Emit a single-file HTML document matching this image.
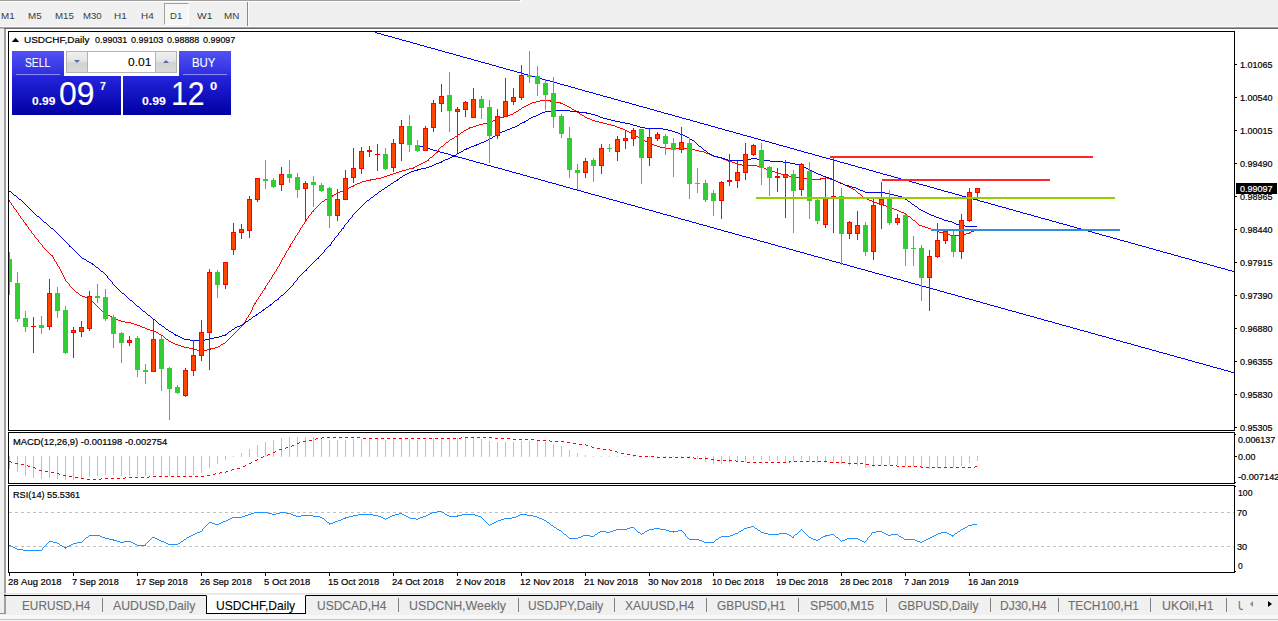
<!DOCTYPE html>
<html><head><meta charset="utf-8"><title>USDCHF,Daily</title>
<style>
html,body{margin:0;padding:0;}
body{width:1278px;height:621px;position:relative;overflow:hidden;background:#f0f0f0;font-family:"Liberation Sans",sans-serif;}
.abs{position:absolute;}
.t{position:absolute;white-space:nowrap;transform-origin:0 0;}
.frame{position:absolute;border:1px solid #000;box-sizing:border-box;}
.tick{position:absolute;left:1235px;width:2px;height:1px;background:#000;}
.dt{position:absolute;top:572px;width:1px;height:4px;background:#000;}
.sep{position:absolute;top:598px;width:1px;height:14px;background:#808080;}
</style></head><body>
<!-- toolbar -->
<div class="abs" style="left:0;top:0;width:521px;height:2px;background:#fff"></div><div class="abs" style="left:0;top:0;width:520px;height:1px;background:#a0a0a0"></div>
<div class="abs" style="left:164px;top:3px;width:25px;height:22px;border:1px solid #fff;border-left-color:#a0a0a0;border-top-color:#a0a0a0;background:#f6f6f6;box-sizing:border-box"></div>
<div class="abs" style="left:247px;top:2px;width:1px;height:25px;background:#8c8c8c"></div><div class="abs" style="left:248px;top:2px;width:1px;height:25px;background:#fbfbfb"></div>
<div class="t" style="left:0.70px;top:11px;font-size:9.8px;line-height:9.8px;color:#3c3c3c;transform-origin:0 8px;transform:scale(0.9989,1);-webkit-text-stroke:0.2px #3c3c3c;-webkit-text-stroke:0;">M1</div>
<div class="t" style="left:28.40px;top:11px;font-size:9.8px;line-height:9.8px;color:#3c3c3c;transform-origin:0 8px;transform:scale(0.9989,1);-webkit-text-stroke:0.2px #3c3c3c;-webkit-text-stroke:0;">M5</div>
<div class="t" style="left:54.50px;top:11px;font-size:9.8px;line-height:9.8px;color:#3c3c3c;transform-origin:0 8px;transform:scale(0.9914,1);-webkit-text-stroke:0.2px #3c3c3c;-webkit-text-stroke:0;">M15</div>
<div class="t" style="left:82.60px;top:11px;font-size:9.8px;line-height:9.8px;color:#3c3c3c;transform-origin:0 8px;transform:scale(0.9809,1);-webkit-text-stroke:0.2px #3c3c3c;-webkit-text-stroke:0;">M30</div>
<div class="t" style="left:113.50px;top:11px;font-size:9.8px;line-height:9.8px;color:#3c3c3c;transform-origin:0 8px;transform:scale(1.0137,1);-webkit-text-stroke:0.2px #3c3c3c;-webkit-text-stroke:0;">H1</div>
<div class="t" style="left:140.90px;top:11px;font-size:9.8px;line-height:9.8px;color:#3c3c3c;transform-origin:0 8px;transform:scale(1.0137,1);-webkit-text-stroke:0.2px #3c3c3c;-webkit-text-stroke:0;">H4</div>
<div class="t" style="left:169.70px;top:11px;font-size:9.8px;line-height:9.8px;color:#3c3c3c;transform-origin:0 8px;transform:scale(0.9738,1);-webkit-text-stroke:0.2px #3c3c3c;-webkit-text-stroke:0;">D1</div>
<div class="t" style="left:196.70px;top:11px;font-size:9.8px;line-height:9.8px;color:#3c3c3c;transform-origin:0 8px;transform:scale(1.0544,1);-webkit-text-stroke:0.2px #3c3c3c;-webkit-text-stroke:0;">W1</div>
<div class="t" style="left:223.70px;top:11px;font-size:9.8px;line-height:9.8px;color:#3c3c3c;transform-origin:0 8px;transform:scale(1.0039,1);-webkit-text-stroke:0.2px #3c3c3c;-webkit-text-stroke:0;">MN</div>

<div class="abs" style="left:0;top:26px;width:1278px;height:1px;background:#f8f8f8"></div><div class="abs" style="left:0;top:27px;width:1278px;height:1px;background:#a0a0a0"></div><div class="abs" style="left:4px;top:28px;width:1274px;height:1px;background:#696969"></div><div class="abs" style="left:0;top:28px;width:4px;height:1px;background:#b8b8b8"></div>
<div class="abs" style="left:4px;top:29px;width:2px;height:585px;background:#a0a0a0"></div><div class="abs" style="left:0;top:613px;width:6px;height:1px;background:#909090"></div>
<div class="abs" style="left:6px;top:29px;width:1272px;height:566px;background:#fff"></div>
<svg class="abs" style="left:0;top:0" width="1278" height="621" viewBox="0 0 1278 621">
<path d="M540 100.5h11M536 101.5h4M550 101.5h3M532 102.5h4M553 102.5h8M530 103.5h2M560 103.5h3M528 104.5h2M563 104.5h2M526 105.5h2M565 105.5h2M524 106.5h2M567 106.5h2M522 107.5h2M569 107.5h2M521 108.5h1M571 108.5h1M519 109.5h2M572 109.5h2M518 110.5h1M574 110.5h2M516 111.5h2M576 111.5h1M514 112.5h2M577 112.5h2M513 113.5h1M579 113.5h1M510 114.5h3M580 114.5h2M507 115.5h3M582 115.5h2M504 116.5h3M584 116.5h1M500 117.5h4M585 117.5h2M497 118.5h3M587 118.5h3M495 119.5h2M590 119.5h2M493 120.5h2M592 120.5h3M490 121.5h3M595 121.5h4M488 122.5h2M599 122.5h4M483 123.5h5M603 123.5h4M479 124.5h4M607 124.5h4M476 125.5h3M611 125.5h4M473 126.5h3M615 126.5h2M469 127.5h4M617 127.5h3M468 128.5h2M620 128.5h3M466 129.5h2M623 129.5h2M464 130.5h2M625 130.5h2M463 131.5h1M627 131.5h2M461 132.5h2M629 132.5h2M460 133.5h1M631 133.5h2M458 134.5h2M633 134.5h1M457 135.5h1M634 135.5h2M455 136.5h2M636 136.5h2M454 137.5h1M638 137.5h1M452 138.5h2M639 138.5h2M450 139.5h2M641 139.5h2M449 140.5h1M643 140.5h2M448 141.5h1M645 141.5h2M446 142.5h2M647 142.5h2M445 143.5h1M649 143.5h2M444 144.5h1M651 144.5h3M443 145.5h1M654 145.5h3M441 146.5h2M657 146.5h3M440 147.5h1M660 147.5h6M439 148.5h1M666 148.5h22M438 149.5h1M688 149.5h7M438 150.5h1M695 150.5h4M437 151.5h1M699 151.5h5M436 152.5h2M704 152.5h2M435 153.5h1M706 153.5h3M434 154.5h1M709 154.5h2M433 155.5h1M711 155.5h2M432 156.5h1M713 156.5h4M430 157.5h2M717 157.5h4M429 158.5h1M721 158.5h2M428 159.5h1M723 159.5h3M427 160.5h2M726 160.5h3M425 161.5h2M728 161.5h4M423 162.5h2M732 162.5h3M421 163.5h2M735 163.5h3M419 164.5h2M738 164.5h4M417 165.5h2M742 165.5h15M415 166.5h2M757 166.5h3M413 167.5h2M760 167.5h4M409 168.5h5M764 168.5h2M406 169.5h3M766 169.5h3M402 170.5h4M769 170.5h2M399 171.5h3M771 171.5h4M396 172.5h3M775 172.5h3M393 173.5h3M778 173.5h3M390 174.5h3M781 174.5h4M387 175.5h3M785 175.5h4M384 176.5h3M789 176.5h4M381 177.5h3M793 177.5h7M825 177.5h2M376 178.5h5M800 178.5h9M820 178.5h5M827 178.5h3M370 179.5h6M809 179.5h12M830 179.5h3M366 180.5h5M833 180.5h3M362 181.5h4M836 181.5h2M360 182.5h2M838 182.5h3M357 183.5h3M841 183.5h2M355 184.5h2M843 184.5h2M353 185.5h2M845 185.5h2M351 186.5h3M847 186.5h2M349 187.5h2M849 187.5h2M347 188.5h2M851 188.5h2M345 189.5h2M853 189.5h2M343 190.5h2M855 190.5h1M340 191.5h3M856 191.5h1M338 192.5h2M857 192.5h1M336 193.5h2M858 193.5h2M334 194.5h2M860 194.5h1M332 195.5h2M861 195.5h1M330 196.5h3M862 196.5h1M329 197.5h1M863 197.5h2M327 198.5h2M865 198.5h2M325 199.5h2M867 199.5h2M9 200.5h1M324 200.5h1M869 200.5h3M9 201.5h1M322 201.5h2M872 201.5h2M10 202.5h1M321 202.5h1M874 202.5h3M11 203.5h1M320 203.5h1M877 203.5h3M11 204.5h1M319 204.5h1M880 204.5h3M12 205.5h1M318 205.5h1M883 205.5h3M13 206.5h1M317 206.5h1M886 206.5h2M13 207.5h1M316 207.5h1M888 207.5h3M14 208.5h1M315 208.5h1M891 208.5h3M15 209.5h1M314 209.5h1M894 209.5h3M16 210.5h1M313 210.5h1M897 210.5h2M16 211.5h1M312 211.5h2M899 211.5h2M17 212.5h1M311 212.5h1M901 212.5h3M18 213.5h1M311 213.5h1M904 213.5h2M18 214.5h1M310 214.5h1M906 214.5h1M19 215.5h1M309 215.5h1M907 215.5h1M20 216.5h1M308 216.5h1M908 216.5h2M20 217.5h1M308 217.5h1M910 217.5h1M21 218.5h1M307 218.5h1M911 218.5h1M22 219.5h1M306 219.5h1M912 219.5h1M23 220.5h1M306 220.5h1M913 220.5h2M23 221.5h1M305 221.5h1M915 221.5h1M24 222.5h1M304 222.5h1M916 222.5h1M25 223.5h1M304 223.5h1M917 223.5h1M25 224.5h2M303 224.5h1M918 224.5h1M26 225.5h1M302 225.5h1M919 225.5h3M27 226.5h1M302 226.5h1M922 226.5h3M28 227.5h1M301 227.5h1M925 227.5h3M28 228.5h1M300 228.5h1M928 228.5h3M29 229.5h1M300 229.5h1M931 229.5h3M976 229.5h2M30 230.5h1M299 230.5h1M934 230.5h3M974 230.5h2M31 231.5h1M299 231.5h1M937 231.5h2M971 231.5h3M31 232.5h1M298 232.5h1M939 232.5h4M969 232.5h2M32 233.5h1M297 233.5h1M943 233.5h3M966 233.5h4M33 234.5h1M297 234.5h1M946 234.5h4M962 234.5h4M34 235.5h1M296 235.5h1M950 235.5h12M34 236.5h1M295 236.5h1M35 237.5h1M295 237.5h1M36 238.5h1M294 238.5h1M37 239.5h1M294 239.5h1M38 240.5h1M293 240.5h1M38 241.5h1M292 241.5h1M39 242.5h1M292 242.5h1M40 243.5h1M291 243.5h1M41 244.5h1M290 244.5h1M42 245.5h1M290 245.5h1M42 246.5h1M289 246.5h2M43 247.5h1M289 247.5h1M44 248.5h1M288 248.5h1M45 249.5h1M288 249.5h1M46 250.5h1M287 250.5h1M47 251.5h1M286 251.5h1M48 252.5h1M286 252.5h1M49 253.5h1M285 253.5h1M50 254.5h1M285 254.5h1M51 255.5h2M284 255.5h1M52 256.5h1M284 256.5h1M53 257.5h1M283 257.5h1M53 258.5h1M282 258.5h1M54 259.5h1M282 259.5h1M54 260.5h1M281 260.5h1M55 261.5h1M281 261.5h1M56 262.5h1M280 262.5h1M56 263.5h1M280 263.5h1M57 264.5h1M279 264.5h1M57 265.5h1M279 265.5h1M58 266.5h1M278 266.5h1M59 267.5h1M277 267.5h1M59 268.5h1M277 268.5h1M60 269.5h1M276 269.5h1M60 270.5h1M276 270.5h1M61 271.5h1M275 271.5h1M61 272.5h1M274 272.5h1M62 273.5h1M274 273.5h1M62 274.5h1M273 274.5h1M63 275.5h1M272 275.5h1M63 276.5h1M272 276.5h1M64 277.5h1M271 277.5h1M64 278.5h1M271 278.5h1M65 279.5h1M270 279.5h1M65 280.5h1M269 280.5h1M66 281.5h1M269 281.5h1M67 282.5h1M268 282.5h1M68 283.5h1M267 283.5h1M69 284.5h1M267 284.5h1M69 285.5h1M266 285.5h1M70 286.5h1M265 286.5h1M71 287.5h1M265 287.5h1M72 288.5h1M264 288.5h2M73 289.5h1M264 289.5h1M74 290.5h1M263 290.5h1M75 291.5h1M262 291.5h1M76 292.5h2M262 292.5h1M78 293.5h1M261 293.5h1M79 294.5h1M260 294.5h1M80 295.5h2M260 295.5h1M82 296.5h3M259 296.5h1M85 297.5h4M258 297.5h1M89 298.5h2M258 298.5h1M91 299.5h1M257 299.5h1M91 300.5h1M256 300.5h1M92 301.5h1M256 301.5h1M93 302.5h1M255 302.5h1M94 303.5h1M254 303.5h2M95 304.5h1M254 304.5h1M96 305.5h1M253 305.5h1M97 306.5h1M253 306.5h1M98 307.5h1M252 307.5h1M99 308.5h1M252 308.5h1M100 309.5h1M252 309.5h1M101 310.5h1M251 310.5h1M102 311.5h1M251 311.5h1M103 312.5h2M250 312.5h1M105 313.5h1M250 313.5h1M106 314.5h2M249 314.5h1M108 315.5h2M248 315.5h1M110 316.5h2M248 316.5h1M112 317.5h2M247 317.5h1M114 318.5h2M246 318.5h1M116 319.5h2M246 319.5h1M118 320.5h3M245 320.5h1M121 321.5h4M245 321.5h1M125 322.5h6M244 322.5h1M131 323.5h3M243 323.5h1M134 324.5h3M243 324.5h1M137 325.5h3M242 325.5h1M140 326.5h2M241 326.5h1M142 327.5h3M240 327.5h1M145 328.5h2M239 328.5h1M147 329.5h3M238 329.5h1M150 330.5h4M237 330.5h1M154 331.5h2M236 331.5h1M156 332.5h2M235 332.5h1M158 333.5h1M234 333.5h1M159 334.5h2M233 334.5h1M161 335.5h2M232 335.5h1M163 336.5h1M231 336.5h1M164 337.5h1M230 337.5h1M165 338.5h1M229 338.5h1M166 339.5h2M228 339.5h1M168 340.5h1M227 340.5h1M169 341.5h2M226 341.5h1M171 342.5h2M225 342.5h1M173 343.5h2M223 343.5h2M175 344.5h3M221 344.5h2M178 345.5h3M220 345.5h1M181 346.5h3M218 346.5h2M184 347.5h5M215 347.5h3M189 348.5h5M210 348.5h5M194 349.5h3M207 349.5h4M197 350.5h10" stroke="#ff0000" stroke-width="1" fill="none" shape-rendering="crispEdges"/>
<path d="M551 110.5h19M545 111.5h6M570 111.5h9M542 112.5h3M579 112.5h8M540 113.5h2M586 113.5h5M538 114.5h2M591 114.5h4M536 115.5h2M595 115.5h3M533 116.5h3M598 116.5h2M531 117.5h2M600 117.5h3M529 118.5h2M603 118.5h4M528 119.5h1M607 119.5h4M526 120.5h2M611 120.5h4M524 121.5h2M615 121.5h5M522 122.5h3M620 122.5h5M520 123.5h2M625 123.5h5M519 124.5h1M630 124.5h3M517 125.5h2M633 125.5h4M515 126.5h2M637 126.5h3M512 127.5h3M640 127.5h5M510 128.5h2M645 128.5h18M507 129.5h3M663 129.5h5M505 130.5h2M668 130.5h4M502 131.5h3M672 131.5h3M500 132.5h2M675 132.5h3M498 133.5h2M678 133.5h2M497 134.5h1M680 134.5h3M495 135.5h2M683 135.5h2M493 136.5h2M685 136.5h2M492 137.5h1M687 137.5h2M490 138.5h2M689 138.5h1M488 139.5h2M690 139.5h2M486 140.5h2M692 140.5h2M484 141.5h2M694 141.5h1M481 142.5h3M695 142.5h1M479 143.5h2M696 143.5h1M476 144.5h3M697 144.5h1M474 145.5h3M698 145.5h1M471 146.5h3M699 146.5h2M469 147.5h2M701 147.5h1M466 148.5h3M702 148.5h1M464 149.5h3M703 149.5h1M463 150.5h1M704 150.5h2M461 151.5h2M706 151.5h1M459 152.5h2M707 152.5h1M457 153.5h2M708 153.5h2M456 154.5h1M710 154.5h2M454 155.5h2M712 155.5h2M452 156.5h3M714 156.5h4M450 157.5h2M718 157.5h4M448 158.5h2M722 158.5h3M751 158.5h6M445 159.5h3M725 159.5h3M744 159.5h7M757 159.5h7M443 160.5h2M728 160.5h16M764 160.5h6M441 161.5h2M770 161.5h13M439 162.5h3M783 162.5h7M436 163.5h3M790 163.5h5M434 164.5h2M795 164.5h5M432 165.5h2M800 165.5h2M429 166.5h3M802 166.5h2M426 167.5h3M804 167.5h2M421 168.5h5M806 168.5h2M417 169.5h4M808 169.5h2M414 170.5h4M810 170.5h2M411 171.5h3M812 171.5h2M409 172.5h2M814 172.5h2M407 173.5h2M816 173.5h2M405 174.5h2M818 174.5h3M403 175.5h2M821 175.5h2M402 176.5h1M823 176.5h3M400 177.5h2M826 177.5h3M399 178.5h1M829 178.5h3M397 179.5h2M832 179.5h2M396 180.5h2M834 180.5h2M394 181.5h2M836 181.5h2M393 182.5h1M838 182.5h2M391 183.5h2M840 183.5h3M390 184.5h1M843 184.5h2M388 185.5h2M845 185.5h4M387 186.5h1M849 186.5h3M385 187.5h2M852 187.5h4M384 188.5h1M856 188.5h2M382 189.5h2M858 189.5h2M381 190.5h1M860 190.5h3M9 191.5h2M379 191.5h2M863 191.5h2M11 192.5h1M378 192.5h1M865 192.5h20M12 193.5h1M377 193.5h1M885 193.5h5M13 194.5h1M375 194.5h2M890 194.5h4M14 195.5h2M374 195.5h1M894 195.5h4M16 196.5h1M373 196.5h1M898 196.5h4M17 197.5h1M371 197.5h2M902 197.5h1M18 198.5h1M370 198.5h1M903 198.5h2M19 199.5h2M369 199.5h1M905 199.5h2M21 200.5h1M367 200.5h2M907 200.5h1M22 201.5h1M366 201.5h1M908 201.5h2M23 202.5h1M365 202.5h1M910 202.5h1M24 203.5h1M364 203.5h1M911 203.5h1M25 204.5h1M363 204.5h1M912 204.5h2M26 205.5h1M362 205.5h1M914 205.5h1M27 206.5h1M361 206.5h1M915 206.5h2M28 207.5h1M360 207.5h1M917 207.5h1M29 208.5h1M359 208.5h1M918 208.5h1M30 209.5h1M358 209.5h1M919 209.5h2M31 210.5h1M357 210.5h1M921 210.5h2M32 211.5h1M356 211.5h1M923 211.5h2M33 212.5h1M355 212.5h1M925 212.5h2M34 213.5h1M354 213.5h1M927 213.5h2M35 214.5h1M353 214.5h1M929 214.5h2M36 215.5h1M352 215.5h1M931 215.5h3M37 216.5h2M352 216.5h1M934 216.5h2M39 217.5h1M351 217.5h1M936 217.5h3M40 218.5h1M350 218.5h1M939 218.5h3M41 219.5h1M349 219.5h1M942 219.5h2M42 220.5h1M348 220.5h1M944 220.5h4M43 221.5h1M348 221.5h1M948 221.5h4M44 222.5h2M347 222.5h1M952 222.5h2M46 223.5h1M346 223.5h1M954 223.5h2M47 224.5h1M345 224.5h1M956 224.5h4M48 225.5h1M344 225.5h1M960 225.5h5M49 226.5h1M344 226.5h1M965 226.5h12M50 227.5h1M343 227.5h1M51 228.5h2M342 228.5h2M53 229.5h1M341 229.5h1M54 230.5h1M341 230.5h1M55 231.5h1M340 231.5h1M56 232.5h1M339 232.5h1M57 233.5h1M338 233.5h1M58 234.5h1M338 234.5h1M59 235.5h1M337 235.5h1M60 236.5h1M336 236.5h1M61 237.5h1M335 237.5h1M62 238.5h1M334 238.5h1M63 239.5h1M334 239.5h1M64 240.5h1M333 240.5h1M65 241.5h1M332 241.5h1M66 242.5h1M331 242.5h1M67 243.5h1M331 243.5h1M68 244.5h1M330 244.5h1M69 245.5h1M329 245.5h2M69 246.5h2M328 246.5h1M71 247.5h1M327 247.5h1M72 248.5h1M326 248.5h1M73 249.5h1M325 249.5h1M74 250.5h1M324 250.5h1M75 251.5h1M324 251.5h1M76 252.5h1M323 252.5h1M77 253.5h1M322 253.5h1M78 254.5h1M321 254.5h1M79 255.5h1M320 255.5h1M80 256.5h1M319 256.5h1M81 257.5h1M318 257.5h1M82 258.5h2M317 258.5h2M84 259.5h2M316 259.5h1M86 260.5h1M315 260.5h1M87 261.5h2M314 261.5h1M89 262.5h2M313 262.5h1M91 263.5h2M312 263.5h1M92 264.5h2M311 264.5h1M94 265.5h1M310 265.5h1M95 266.5h1M309 266.5h1M96 267.5h2M308 267.5h1M98 268.5h1M307 268.5h1M99 269.5h1M306 269.5h1M100 270.5h1M305 270.5h2M101 271.5h2M304 271.5h1M103 272.5h1M303 272.5h1M104 273.5h1M302 273.5h1M105 274.5h1M301 274.5h1M106 275.5h1M300 275.5h1M107 276.5h1M299 276.5h1M107 277.5h1M298 277.5h1M108 278.5h1M297 278.5h1M109 279.5h1M297 279.5h1M110 280.5h1M296 280.5h1M111 281.5h1M295 281.5h1M112 282.5h1M294 282.5h1M112 283.5h1M293 283.5h1M113 284.5h1M293 284.5h1M114 285.5h1M292 285.5h1M115 286.5h1M291 286.5h1M116 287.5h1M290 287.5h1M117 288.5h1M289 288.5h1M118 289.5h1M288 289.5h1M119 290.5h1M287 290.5h1M120 291.5h1M286 291.5h1M121 292.5h1M285 292.5h1M122 293.5h2M284 293.5h1M124 294.5h1M283 294.5h1M125 295.5h1M281 295.5h2M126 296.5h1M280 296.5h1M127 297.5h1M279 297.5h1M128 298.5h1M278 298.5h1M129 299.5h1M277 299.5h2M130 300.5h2M275 300.5h2M132 301.5h1M274 301.5h1M133 302.5h1M273 302.5h1M134 303.5h1M272 303.5h1M135 304.5h1M270 304.5h2M136 305.5h1M269 305.5h2M137 306.5h2M268 306.5h1M139 307.5h1M266 307.5h2M140 308.5h1M265 308.5h1M141 309.5h1M263 309.5h2M142 310.5h1M262 310.5h2M143 311.5h2M261 311.5h1M145 312.5h1M259 312.5h2M146 313.5h1M258 313.5h1M147 314.5h1M256 314.5h2M148 315.5h2M255 315.5h2M150 316.5h1M253 316.5h2M151 317.5h1M252 317.5h1M152 318.5h1M251 318.5h1M153 319.5h2M249 319.5h2M155 320.5h1M248 320.5h1M156 321.5h1M246 321.5h2M157 322.5h1M245 322.5h1M158 323.5h1M244 323.5h1M159 324.5h2M242 324.5h2M161 325.5h1M240 325.5h2M162 326.5h2M237 326.5h3M164 327.5h1M235 327.5h2M165 328.5h1M234 328.5h1M166 329.5h2M232 329.5h2M168 330.5h1M231 330.5h1M169 331.5h2M229 331.5h2M171 332.5h2M228 332.5h1M173 333.5h1M227 333.5h1M174 334.5h2M225 334.5h2M175 335.5h3M222 335.5h4M178 336.5h2M219 336.5h3M180 337.5h2M214 337.5h5M182 338.5h2M209 338.5h5M184 339.5h6M205 339.5h4M190 340.5h15" stroke="#0000e0" stroke-width="1" fill="none" shape-rendering="crispEdges"/>
<path d="M375 32.5h2M377 33.5h4M381 34.5h3M384 35.5h4M388 36.5h4M392 37.5h3M395 38.5h4M399 39.5h3M402 40.5h4M406 41.5h4M410 42.5h3M413 43.5h4M417 44.5h3M420 45.5h4M424 46.5h3M427 47.5h4M431 48.5h4M435 49.5h3M438 50.5h4M442 51.5h3M445 52.5h4M449 53.5h4M453 54.5h3M456 55.5h4M460 56.5h3M463 57.5h4M467 58.5h4M471 59.5h3M474 60.5h4M478 61.5h3M481 62.5h4M485 63.5h4M489 64.5h3M492 65.5h4M496 66.5h3M499 67.5h4M503 68.5h3M506 69.5h4M510 70.5h4M514 71.5h3M517 72.5h4M521 73.5h3M524 74.5h4M528 75.5h4M532 76.5h3M535 77.5h4M539 78.5h3M542 79.5h4M546 80.5h4M550 81.5h3M553 82.5h4M557 83.5h3M560 84.5h4M564 85.5h4M568 86.5h3M571 87.5h4M575 88.5h3M578 89.5h4M582 90.5h3M585 91.5h4M589 92.5h4M593 93.5h3M596 94.5h4M600 95.5h3M603 96.5h4M607 97.5h4M611 98.5h3M614 99.5h4M618 100.5h3M621 101.5h4M625 102.5h4M629 103.5h3M632 104.5h4M636 105.5h3M639 106.5h4M643 107.5h4M647 108.5h3M650 109.5h4M654 110.5h3M657 111.5h4M661 112.5h3M664 113.5h4M668 114.5h4M672 115.5h3M675 116.5h4M679 117.5h3M682 118.5h4M686 119.5h4M690 120.5h3M693 121.5h4M697 122.5h3M700 123.5h4M704 124.5h4M708 125.5h3M711 126.5h4M715 127.5h3M718 128.5h4M722 129.5h3M725 130.5h4M729 131.5h4M733 132.5h3M736 133.5h4M740 134.5h3M743 135.5h4M747 136.5h4M751 137.5h3M754 138.5h4M758 139.5h3M761 140.5h4M765 141.5h4M769 142.5h3M772 143.5h4M776 144.5h3M779 145.5h4M783 146.5h4M787 147.5h3M790 148.5h4M794 149.5h3M797 150.5h4M801 151.5h3M804 152.5h4M808 153.5h4M812 154.5h3M815 155.5h4M819 156.5h3M822 157.5h4M826 158.5h4M830 159.5h3M833 160.5h4M837 161.5h3M840 162.5h4M844 163.5h4M848 164.5h3M851 165.5h4M855 166.5h3M858 167.5h4M862 168.5h4M866 169.5h3M869 170.5h4M873 171.5h3M876 172.5h4M880 173.5h3M883 174.5h4M887 175.5h4M891 176.5h3M894 177.5h4M898 178.5h3M901 179.5h4M905 180.5h4M909 181.5h3M912 182.5h4M916 183.5h3M919 184.5h4M923 185.5h4M927 186.5h3M930 187.5h4M934 188.5h3M937 189.5h4M941 190.5h3M944 191.5h4M948 192.5h4M952 193.5h3M955 194.5h4M959 195.5h3M962 196.5h4M966 197.5h4M970 198.5h3M973 199.5h4M977 200.5h3M980 201.5h4M984 202.5h4M988 203.5h3M991 204.5h4M995 205.5h3M998 206.5h4M1002 207.5h4M1006 208.5h3M1009 209.5h4M1013 210.5h3M1016 211.5h4M1020 212.5h3M1023 213.5h4M1027 214.5h4M1031 215.5h3M1034 216.5h4M1038 217.5h3M1041 218.5h4M1045 219.5h4M1049 220.5h3M1052 221.5h4M1056 222.5h3M1059 223.5h4M1063 224.5h4M1067 225.5h3M1070 226.5h4M1074 227.5h3M1077 228.5h4M1081 229.5h4M1085 230.5h3M1088 231.5h4M1092 232.5h3M1095 233.5h4M1099 234.5h3M1102 235.5h4M1106 236.5h4M1110 237.5h3M1113 238.5h4M1117 239.5h3M1120 240.5h4M1124 241.5h4M1128 242.5h3M1131 243.5h4M1135 244.5h3M1138 245.5h4M1142 246.5h4M1146 247.5h3M1149 248.5h4M1153 249.5h3M1156 250.5h4M1160 251.5h3M1163 252.5h4M1167 253.5h4M1171 254.5h3M1174 255.5h4M1178 256.5h3M1181 257.5h4M1185 258.5h4M1189 259.5h3M1192 260.5h4M1196 261.5h3M1199 262.5h4M1203 263.5h4M1207 264.5h3M1210 265.5h4M1214 266.5h3M1217 267.5h4M1221 268.5h4M1225 269.5h3M1228 270.5h4M1232 271.5h2" stroke="#0000ff" stroke-width="1" fill="none" shape-rendering="crispEdges"/>
<path d="M420 146.5h3M423 147.5h3M426 148.5h4M430 149.5h3M433 150.5h4M437 151.5h3M440 152.5h4M444 153.5h4M448 154.5h3M451 155.5h4M455 156.5h3M458 157.5h4M462 158.5h4M466 159.5h3M469 160.5h4M473 161.5h3M476 162.5h4M480 163.5h4M484 164.5h3M487 165.5h4M491 166.5h3M494 167.5h4M498 168.5h4M502 169.5h3M505 170.5h4M509 171.5h3M512 172.5h4M516 173.5h4M520 174.5h3M523 175.5h4M527 176.5h3M530 177.5h4M534 178.5h4M538 179.5h3M541 180.5h4M545 181.5h3M548 182.5h4M552 183.5h4M556 184.5h3M559 185.5h4M563 186.5h3M566 187.5h4M570 188.5h3M573 189.5h4M577 190.5h4M581 191.5h3M584 192.5h4M588 193.5h3M591 194.5h4M595 195.5h4M599 196.5h3M602 197.5h4M606 198.5h3M609 199.5h4M613 200.5h4M617 201.5h3M620 202.5h4M624 203.5h3M627 204.5h4M631 205.5h4M635 206.5h3M638 207.5h4M642 208.5h3M645 209.5h4M649 210.5h4M653 211.5h3M656 212.5h4M660 213.5h3M663 214.5h4M667 215.5h4M671 216.5h3M674 217.5h4M678 218.5h3M681 219.5h4M685 220.5h4M689 221.5h3M692 222.5h4M696 223.5h3M699 224.5h4M703 225.5h4M707 226.5h3M710 227.5h4M714 228.5h3M717 229.5h4M721 230.5h3M724 231.5h4M728 232.5h4M732 233.5h3M735 234.5h4M739 235.5h3M742 236.5h4M746 237.5h4M750 238.5h3M753 239.5h4M757 240.5h3M760 241.5h4M764 242.5h4M768 243.5h3M771 244.5h4M775 245.5h3M778 246.5h4M782 247.5h4M786 248.5h3M789 249.5h4M793 250.5h3M796 251.5h4M800 252.5h4M804 253.5h3M807 254.5h4M811 255.5h3M814 256.5h4M818 257.5h4M822 258.5h3M825 259.5h4M829 260.5h3M832 261.5h4M836 262.5h4M840 263.5h3M843 264.5h4M847 265.5h3M850 266.5h4M854 267.5h3M857 268.5h4M861 269.5h4M865 270.5h3M868 271.5h4M872 272.5h3M875 273.5h4M879 274.5h4M883 275.5h3M886 276.5h4M890 277.5h3M893 278.5h4M897 279.5h4M901 280.5h3M904 281.5h4M908 282.5h3M911 283.5h4M915 284.5h4M919 285.5h3M922 286.5h4M926 287.5h3M929 288.5h4M933 289.5h4M937 290.5h3M940 291.5h4M944 292.5h3M947 293.5h4M951 294.5h4M955 295.5h3M958 296.5h4M962 297.5h3M965 298.5h4M969 299.5h4M973 300.5h3M976 301.5h4M980 302.5h3M983 303.5h4M987 304.5h3M990 305.5h4M994 306.5h4M998 307.5h3M1001 308.5h4M1005 309.5h3M1008 310.5h4M1012 311.5h4M1016 312.5h3M1019 313.5h4M1023 314.5h3M1026 315.5h4M1030 316.5h4M1034 317.5h3M1037 318.5h4M1041 319.5h3M1044 320.5h4M1048 321.5h4M1052 322.5h3M1055 323.5h4M1059 324.5h3M1062 325.5h4M1066 326.5h4M1070 327.5h3M1073 328.5h4M1077 329.5h3M1080 330.5h4M1084 331.5h4M1088 332.5h3M1091 333.5h4M1095 334.5h3M1098 335.5h4M1102 336.5h4M1106 337.5h3M1109 338.5h4M1113 339.5h3M1116 340.5h4M1120 341.5h3M1123 342.5h4M1127 343.5h4M1131 344.5h3M1134 345.5h4M1138 346.5h3M1141 347.5h4M1145 348.5h4M1149 349.5h3M1152 350.5h4M1156 351.5h3M1159 352.5h4M1163 353.5h4M1167 354.5h3M1170 355.5h4M1174 356.5h3M1177 357.5h4M1181 358.5h4M1185 359.5h3M1188 360.5h4M1192 361.5h3M1195 362.5h4M1199 363.5h4M1203 364.5h3M1206 365.5h4M1210 366.5h3M1213 367.5h4M1217 368.5h4M1221 369.5h3M1224 370.5h4M1228 371.5h3M1231 372.5h3" stroke="#0000ff" stroke-width="1" fill="none" shape-rendering="crispEdges"/>
<g shape-rendering="crispEdges">
<rect x="9" y="252" width="1" height="43" fill="#32cd32"/>
<rect x="9" y="259" width="3" height="23" fill="#32cd32"/>
<rect x="17" y="272" width="1" height="50" fill="#32cd32"/>
<rect x="15" y="283" width="5" height="36" fill="#32cd32"/>
<rect x="25" y="311" width="1" height="21" fill="#32cd32"/>
<rect x="23" y="318" width="5" height="9" fill="#32cd32"/>
<rect x="33" y="317" width="1" height="36" fill="#ff0000"/>
<rect x="31" y="326" width="5" height="1" fill="#ff0000"/>
<rect x="41" y="316" width="1" height="18" fill="#32cd32"/>
<rect x="39" y="325" width="5" height="3" fill="#32cd32"/>
<rect x="49" y="279" width="1" height="51" fill="#ff0000"/>
<rect x="47" y="293" width="5" height="34" fill="#ff0000"/>
<rect x="48" y="294" width="3" height="32" fill="#ff4500"/>
<rect x="57" y="287" width="1" height="31" fill="#32cd32"/>
<rect x="55" y="293" width="5" height="18" fill="#32cd32"/>
<rect x="65" y="306" width="1" height="48" fill="#32cd32"/>
<rect x="63" y="310" width="5" height="43" fill="#32cd32"/>
<rect x="73" y="327" width="1" height="31" fill="#ff0000"/>
<rect x="71" y="330" width="5" height="3" fill="#ff0000"/>
<rect x="72" y="331" width="3" height="1" fill="#ff4500"/>
<rect x="81" y="321" width="1" height="16" fill="#ff0000"/>
<rect x="79" y="327" width="5" height="5" fill="#ff0000"/>
<rect x="80" y="328" width="3" height="3" fill="#ff4500"/>
<rect x="89" y="291" width="1" height="40" fill="#ff0000"/>
<rect x="87" y="296" width="5" height="33" fill="#ff0000"/>
<rect x="88" y="297" width="3" height="31" fill="#ff4500"/>
<rect x="97" y="284" width="1" height="19" fill="#32cd32"/>
<rect x="95" y="296" width="5" height="2" fill="#32cd32"/>
<rect x="105" y="289" width="1" height="32" fill="#32cd32"/>
<rect x="103" y="297" width="5" height="22" fill="#32cd32"/>
<rect x="113" y="315" width="1" height="33" fill="#32cd32"/>
<rect x="111" y="317" width="5" height="17" fill="#32cd32"/>
<rect x="121" y="332" width="1" height="31" fill="#32cd32"/>
<rect x="119" y="333" width="5" height="10" fill="#32cd32"/>
<rect x="129" y="336" width="1" height="10" fill="#ff0000"/>
<rect x="127" y="340" width="5" height="3" fill="#ff0000"/>
<rect x="128" y="341" width="3" height="1" fill="#ff4500"/>
<rect x="137" y="336" width="1" height="41" fill="#32cd32"/>
<rect x="135" y="338" width="5" height="32" fill="#32cd32"/>
<rect x="145" y="364" width="1" height="20" fill="#32cd32"/>
<rect x="143" y="370" width="5" height="2" fill="#32cd32"/>
<rect x="153" y="320" width="1" height="52" fill="#ff0000"/>
<rect x="151" y="339" width="5" height="33" fill="#ff0000"/>
<rect x="152" y="340" width="3" height="31" fill="#ff4500"/>
<rect x="161" y="336" width="1" height="55" fill="#32cd32"/>
<rect x="159" y="339" width="5" height="30" fill="#32cd32"/>
<rect x="169" y="367" width="1" height="53" fill="#32cd32"/>
<rect x="167" y="368" width="5" height="21" fill="#32cd32"/>
<rect x="177" y="385" width="1" height="9" fill="#32cd32"/>
<rect x="175" y="387" width="5" height="6" fill="#32cd32"/>
<rect x="185" y="368" width="1" height="29" fill="#ff0000"/>
<rect x="183" y="370" width="5" height="26" fill="#ff0000"/>
<rect x="184" y="371" width="3" height="24" fill="#ff4500"/>
<rect x="193" y="340" width="1" height="36" fill="#ff0000"/>
<rect x="191" y="355" width="5" height="16" fill="#ff0000"/>
<rect x="192" y="356" width="3" height="14" fill="#ff4500"/>
<rect x="201" y="320" width="1" height="41" fill="#ff0000"/>
<rect x="199" y="332" width="5" height="24" fill="#ff0000"/>
<rect x="200" y="333" width="3" height="22" fill="#ff4500"/>
<rect x="209" y="269" width="1" height="101" fill="#ff0000"/>
<rect x="207" y="272" width="5" height="61" fill="#ff0000"/>
<rect x="208" y="273" width="3" height="59" fill="#ff4500"/>
<rect x="217" y="270" width="1" height="28" fill="#32cd32"/>
<rect x="215" y="272" width="5" height="13" fill="#32cd32"/>
<rect x="225" y="262" width="1" height="27" fill="#ff0000"/>
<rect x="223" y="262" width="5" height="23" fill="#ff0000"/>
<rect x="224" y="263" width="3" height="21" fill="#ff4500"/>
<rect x="233" y="223" width="1" height="32" fill="#ff0000"/>
<rect x="231" y="232" width="5" height="18" fill="#ff0000"/>
<rect x="232" y="233" width="3" height="16" fill="#ff4500"/>
<rect x="241" y="224" width="1" height="15" fill="#ff0000"/>
<rect x="239" y="229" width="5" height="4" fill="#ff0000"/>
<rect x="240" y="230" width="3" height="2" fill="#ff4500"/>
<rect x="249" y="196" width="1" height="42" fill="#ff0000"/>
<rect x="247" y="199" width="5" height="32" fill="#ff0000"/>
<rect x="248" y="200" width="3" height="30" fill="#ff4500"/>
<rect x="257" y="178" width="1" height="24" fill="#ff0000"/>
<rect x="255" y="178" width="5" height="22" fill="#ff0000"/>
<rect x="256" y="179" width="3" height="20" fill="#ff4500"/>
<rect x="265" y="160" width="1" height="29" fill="#32cd32"/>
<rect x="263" y="179" width="5" height="2" fill="#32cd32"/>
<rect x="273" y="178" width="1" height="10" fill="#32cd32"/>
<rect x="271" y="180" width="5" height="7" fill="#32cd32"/>
<rect x="281" y="167" width="1" height="24" fill="#ff0000"/>
<rect x="279" y="174" width="5" height="11" fill="#ff0000"/>
<rect x="280" y="175" width="3" height="9" fill="#ff4500"/>
<rect x="289" y="160" width="1" height="23" fill="#32cd32"/>
<rect x="287" y="174" width="5" height="4" fill="#32cd32"/>
<rect x="297" y="173" width="1" height="25" fill="#32cd32"/>
<rect x="295" y="177" width="5" height="13" fill="#32cd32"/>
<rect x="305" y="181" width="1" height="40" fill="#ff0000"/>
<rect x="303" y="183" width="5" height="6" fill="#ff0000"/>
<rect x="304" y="184" width="3" height="4" fill="#ff4500"/>
<rect x="313" y="176" width="1" height="31" fill="#32cd32"/>
<rect x="311" y="182" width="5" height="3" fill="#32cd32"/>
<rect x="321" y="183" width="1" height="9" fill="#32cd32"/>
<rect x="319" y="185" width="5" height="6" fill="#32cd32"/>
<rect x="329" y="187" width="1" height="41" fill="#32cd32"/>
<rect x="327" y="188" width="5" height="28" fill="#32cd32"/>
<rect x="337" y="189" width="1" height="32" fill="#ff0000"/>
<rect x="335" y="199" width="5" height="17" fill="#ff0000"/>
<rect x="336" y="200" width="3" height="15" fill="#ff4500"/>
<rect x="345" y="170" width="1" height="30" fill="#ff0000"/>
<rect x="343" y="178" width="5" height="22" fill="#ff0000"/>
<rect x="344" y="179" width="3" height="20" fill="#ff4500"/>
<rect x="353" y="148" width="1" height="35" fill="#ff0000"/>
<rect x="351" y="168" width="5" height="10" fill="#ff0000"/>
<rect x="352" y="169" width="3" height="8" fill="#ff4500"/>
<rect x="361" y="147" width="1" height="27" fill="#ff0000"/>
<rect x="359" y="151" width="5" height="18" fill="#ff0000"/>
<rect x="360" y="152" width="3" height="16" fill="#ff4500"/>
<rect x="369" y="146" width="1" height="11" fill="#ff0000"/>
<rect x="367" y="150" width="5" height="2" fill="#ff0000"/>
<rect x="377" y="144" width="1" height="27" fill="#ff0000"/>
<rect x="375" y="154" width="5" height="1" fill="#ff0000"/>
<rect x="385" y="148" width="1" height="22" fill="#32cd32"/>
<rect x="383" y="154" width="5" height="15" fill="#32cd32"/>
<rect x="393" y="139" width="1" height="33" fill="#ff0000"/>
<rect x="391" y="143" width="5" height="25" fill="#ff0000"/>
<rect x="392" y="144" width="3" height="23" fill="#ff4500"/>
<rect x="401" y="120" width="1" height="41" fill="#ff0000"/>
<rect x="399" y="126" width="5" height="18" fill="#ff0000"/>
<rect x="400" y="127" width="3" height="16" fill="#ff4500"/>
<rect x="409" y="115" width="1" height="37" fill="#32cd32"/>
<rect x="407" y="126" width="5" height="19" fill="#32cd32"/>
<rect x="417" y="140" width="1" height="12" fill="#32cd32"/>
<rect x="415" y="145" width="5" height="6" fill="#32cd32"/>
<rect x="425" y="126" width="1" height="25" fill="#ff0000"/>
<rect x="423" y="128" width="5" height="23" fill="#ff0000"/>
<rect x="424" y="129" width="3" height="21" fill="#ff4500"/>
<rect x="433" y="100" width="1" height="32" fill="#ff0000"/>
<rect x="431" y="103" width="5" height="25" fill="#ff0000"/>
<rect x="432" y="104" width="3" height="23" fill="#ff4500"/>
<rect x="441" y="84" width="1" height="28" fill="#ff0000"/>
<rect x="439" y="96" width="5" height="8" fill="#ff0000"/>
<rect x="440" y="97" width="3" height="6" fill="#ff4500"/>
<rect x="449" y="72" width="1" height="60" fill="#32cd32"/>
<rect x="447" y="95" width="5" height="16" fill="#32cd32"/>
<rect x="457" y="107" width="1" height="46" fill="#ff0000"/>
<rect x="455" y="109" width="5" height="3" fill="#ff0000"/>
<rect x="456" y="110" width="3" height="1" fill="#ff4500"/>
<rect x="465" y="101" width="1" height="16" fill="#ff0000"/>
<rect x="463" y="102" width="5" height="8" fill="#ff0000"/>
<rect x="464" y="103" width="3" height="6" fill="#ff4500"/>
<rect x="473" y="88" width="1" height="30" fill="#ff0000"/>
<rect x="471" y="99" width="5" height="19" fill="#ff0000"/>
<rect x="472" y="100" width="3" height="17" fill="#ff4500"/>
<rect x="481" y="96" width="1" height="23" fill="#32cd32"/>
<rect x="479" y="99" width="5" height="9" fill="#32cd32"/>
<rect x="489" y="100" width="1" height="63" fill="#32cd32"/>
<rect x="487" y="107" width="5" height="29" fill="#32cd32"/>
<rect x="497" y="109" width="1" height="30" fill="#ff0000"/>
<rect x="495" y="116" width="5" height="20" fill="#ff0000"/>
<rect x="496" y="117" width="3" height="18" fill="#ff4500"/>
<rect x="505" y="78" width="1" height="39" fill="#ff0000"/>
<rect x="503" y="101" width="5" height="16" fill="#ff0000"/>
<rect x="504" y="102" width="3" height="14" fill="#ff4500"/>
<rect x="513" y="88" width="1" height="17" fill="#ff0000"/>
<rect x="511" y="97" width="5" height="5" fill="#ff0000"/>
<rect x="512" y="98" width="3" height="3" fill="#ff4500"/>
<rect x="521" y="65" width="1" height="35" fill="#ff0000"/>
<rect x="519" y="75" width="5" height="23" fill="#ff0000"/>
<rect x="520" y="76" width="3" height="21" fill="#ff4500"/>
<rect x="529" y="51" width="1" height="32" fill="#32cd32"/>
<rect x="527" y="75" width="5" height="2" fill="#32cd32"/>
<rect x="537" y="66" width="1" height="30" fill="#32cd32"/>
<rect x="535" y="76" width="5" height="8" fill="#32cd32"/>
<rect x="545" y="79" width="1" height="31" fill="#32cd32"/>
<rect x="543" y="83" width="5" height="12" fill="#32cd32"/>
<rect x="553" y="77" width="1" height="51" fill="#32cd32"/>
<rect x="551" y="93" width="5" height="24" fill="#32cd32"/>
<rect x="561" y="114" width="1" height="24" fill="#32cd32"/>
<rect x="559" y="116" width="5" height="18" fill="#32cd32"/>
<rect x="569" y="127" width="1" height="51" fill="#32cd32"/>
<rect x="567" y="138" width="5" height="32" fill="#32cd32"/>
<rect x="577" y="164" width="1" height="26" fill="#32cd32"/>
<rect x="575" y="170" width="5" height="3" fill="#32cd32"/>
<rect x="585" y="158" width="1" height="20" fill="#ff0000"/>
<rect x="583" y="161" width="5" height="12" fill="#ff0000"/>
<rect x="584" y="162" width="3" height="10" fill="#ff4500"/>
<rect x="593" y="158" width="1" height="24" fill="#32cd32"/>
<rect x="591" y="160" width="5" height="6" fill="#32cd32"/>
<rect x="601" y="144" width="1" height="30" fill="#ff0000"/>
<rect x="599" y="148" width="5" height="18" fill="#ff0000"/>
<rect x="600" y="149" width="3" height="16" fill="#ff4500"/>
<rect x="609" y="144" width="1" height="8" fill="#32cd32"/>
<rect x="607" y="148" width="5" height="1" fill="#32cd32"/>
<rect x="617" y="136" width="1" height="25" fill="#ff0000"/>
<rect x="615" y="139" width="5" height="13" fill="#ff0000"/>
<rect x="616" y="140" width="3" height="11" fill="#ff4500"/>
<rect x="625" y="130" width="1" height="19" fill="#ff0000"/>
<rect x="623" y="138" width="5" height="3" fill="#ff0000"/>
<rect x="624" y="139" width="3" height="1" fill="#ff4500"/>
<rect x="633" y="128" width="1" height="18" fill="#ff0000"/>
<rect x="631" y="130" width="5" height="9" fill="#ff0000"/>
<rect x="632" y="131" width="3" height="7" fill="#ff4500"/>
<rect x="641" y="129" width="1" height="55" fill="#32cd32"/>
<rect x="639" y="129" width="5" height="29" fill="#32cd32"/>
<rect x="649" y="129" width="1" height="37" fill="#ff0000"/>
<rect x="647" y="137" width="5" height="21" fill="#ff0000"/>
<rect x="648" y="138" width="3" height="19" fill="#ff4500"/>
<rect x="657" y="132" width="1" height="9" fill="#ff0000"/>
<rect x="655" y="134" width="5" height="5" fill="#ff0000"/>
<rect x="656" y="135" width="3" height="3" fill="#ff4500"/>
<rect x="665" y="134" width="1" height="21" fill="#32cd32"/>
<rect x="663" y="136" width="5" height="8" fill="#32cd32"/>
<rect x="673" y="138" width="1" height="39" fill="#32cd32"/>
<rect x="671" y="143" width="5" height="7" fill="#32cd32"/>
<rect x="681" y="127" width="1" height="26" fill="#ff0000"/>
<rect x="679" y="142" width="5" height="8" fill="#ff0000"/>
<rect x="680" y="143" width="3" height="6" fill="#ff4500"/>
<rect x="689" y="138" width="1" height="61" fill="#32cd32"/>
<rect x="687" y="143" width="5" height="41" fill="#32cd32"/>
<rect x="697" y="168" width="1" height="25" fill="#32cd32"/>
<rect x="695" y="183" width="5" height="1" fill="#32cd32"/>
<rect x="705" y="180" width="1" height="22" fill="#32cd32"/>
<rect x="703" y="183" width="5" height="17" fill="#32cd32"/>
<rect x="713" y="190" width="1" height="26" fill="#32cd32"/>
<rect x="711" y="193" width="5" height="8" fill="#32cd32"/>
<rect x="721" y="181" width="1" height="38" fill="#ff0000"/>
<rect x="719" y="182" width="5" height="19" fill="#ff0000"/>
<rect x="720" y="183" width="3" height="17" fill="#ff4500"/>
<rect x="729" y="154" width="1" height="32" fill="#ff0000"/>
<rect x="727" y="180" width="5" height="2" fill="#ff0000"/>
<rect x="737" y="161" width="1" height="27" fill="#ff0000"/>
<rect x="735" y="172" width="5" height="9" fill="#ff0000"/>
<rect x="736" y="173" width="3" height="7" fill="#ff4500"/>
<rect x="745" y="143" width="1" height="37" fill="#ff0000"/>
<rect x="743" y="154" width="5" height="19" fill="#ff0000"/>
<rect x="744" y="155" width="3" height="17" fill="#ff4500"/>
<rect x="753" y="144" width="1" height="12" fill="#ff0000"/>
<rect x="751" y="145" width="5" height="10" fill="#ff0000"/>
<rect x="752" y="146" width="3" height="8" fill="#ff4500"/>
<rect x="761" y="143" width="1" height="42" fill="#32cd32"/>
<rect x="759" y="150" width="5" height="18" fill="#32cd32"/>
<rect x="769" y="166" width="1" height="30" fill="#32cd32"/>
<rect x="767" y="167" width="5" height="11" fill="#32cd32"/>
<rect x="777" y="168" width="1" height="24" fill="#ff0000"/>
<rect x="775" y="176" width="5" height="2" fill="#ff0000"/>
<rect x="785" y="160" width="1" height="58" fill="#ff0000"/>
<rect x="783" y="174" width="5" height="4" fill="#ff0000"/>
<rect x="784" y="175" width="3" height="2" fill="#ff4500"/>
<rect x="793" y="170" width="1" height="63" fill="#32cd32"/>
<rect x="791" y="174" width="5" height="17" fill="#32cd32"/>
<rect x="801" y="163" width="1" height="33" fill="#ff0000"/>
<rect x="799" y="164" width="5" height="26" fill="#ff0000"/>
<rect x="800" y="165" width="3" height="24" fill="#ff4500"/>
<rect x="809" y="162" width="1" height="57" fill="#32cd32"/>
<rect x="807" y="171" width="5" height="30" fill="#32cd32"/>
<rect x="817" y="199" width="1" height="25" fill="#32cd32"/>
<rect x="815" y="200" width="5" height="21" fill="#32cd32"/>
<rect x="825" y="177" width="1" height="51" fill="#ff0000"/>
<rect x="823" y="198" width="5" height="27" fill="#ff0000"/>
<rect x="824" y="199" width="3" height="25" fill="#ff4500"/>
<rect x="833" y="156" width="1" height="77" fill="#ff0000"/>
<rect x="831" y="196" width="5" height="1" fill="#ff0000"/>
<rect x="841" y="188" width="1" height="77" fill="#32cd32"/>
<rect x="839" y="196" width="5" height="38" fill="#32cd32"/>
<rect x="849" y="221" width="1" height="18" fill="#ff0000"/>
<rect x="847" y="222" width="5" height="12" fill="#ff0000"/>
<rect x="848" y="223" width="3" height="10" fill="#ff4500"/>
<rect x="857" y="211" width="1" height="29" fill="#ff0000"/>
<rect x="855" y="225" width="5" height="9" fill="#ff0000"/>
<rect x="856" y="226" width="3" height="7" fill="#ff4500"/>
<rect x="865" y="222" width="1" height="34" fill="#32cd32"/>
<rect x="863" y="225" width="5" height="27" fill="#32cd32"/>
<rect x="873" y="199" width="1" height="61" fill="#ff0000"/>
<rect x="871" y="205" width="5" height="47" fill="#ff0000"/>
<rect x="872" y="206" width="3" height="45" fill="#ff4500"/>
<rect x="881" y="182" width="1" height="47" fill="#ff0000"/>
<rect x="879" y="199" width="5" height="6" fill="#ff0000"/>
<rect x="880" y="200" width="3" height="4" fill="#ff4500"/>
<rect x="889" y="190" width="1" height="35" fill="#32cd32"/>
<rect x="887" y="198" width="5" height="25" fill="#32cd32"/>
<rect x="897" y="214" width="1" height="11" fill="#ff0000"/>
<rect x="895" y="218" width="5" height="5" fill="#ff0000"/>
<rect x="896" y="219" width="3" height="3" fill="#ff4500"/>
<rect x="905" y="214" width="1" height="52" fill="#32cd32"/>
<rect x="903" y="215" width="5" height="34" fill="#32cd32"/>
<rect x="913" y="236" width="1" height="30" fill="#32cd32"/>
<rect x="911" y="248" width="5" height="1" fill="#32cd32"/>
<rect x="921" y="245" width="1" height="56" fill="#32cd32"/>
<rect x="919" y="248" width="5" height="30" fill="#32cd32"/>
<rect x="929" y="250" width="1" height="61" fill="#ff0000"/>
<rect x="927" y="256" width="5" height="22" fill="#ff0000"/>
<rect x="928" y="257" width="3" height="20" fill="#ff4500"/>
<rect x="937" y="223" width="1" height="35" fill="#ff0000"/>
<rect x="935" y="240" width="5" height="17" fill="#ff0000"/>
<rect x="936" y="241" width="3" height="15" fill="#ff4500"/>
<rect x="945" y="230" width="1" height="14" fill="#ff0000"/>
<rect x="943" y="231" width="5" height="10" fill="#ff0000"/>
<rect x="944" y="232" width="3" height="8" fill="#ff4500"/>
<rect x="953" y="230" width="1" height="27" fill="#32cd32"/>
<rect x="951" y="236" width="5" height="16" fill="#32cd32"/>
<rect x="961" y="214" width="1" height="45" fill="#ff0000"/>
<rect x="959" y="220" width="5" height="32" fill="#ff0000"/>
<rect x="960" y="221" width="3" height="30" fill="#ff4500"/>
<rect x="969" y="188" width="1" height="34" fill="#ff0000"/>
<rect x="967" y="192" width="5" height="29" fill="#ff0000"/>
<rect x="968" y="193" width="3" height="27" fill="#ff4500"/>
<rect x="977" y="188" width="1" height="13" fill="#ff0000"/>
<rect x="975" y="188" width="5" height="5" fill="#ff0000"/>
<rect x="976" y="189" width="3" height="3" fill="#ff4500"/>
</g>
<g shape-rendering="crispEdges">
<rect x="830" y="156" width="263" height="2" fill="#ff2828"/>
<rect x="882" y="179" width="168" height="2" fill="#ff2828"/>
<rect x="756" y="197" width="359" height="2" fill="#99cc00"/>
<rect x="931" y="229" width="189" height="2" fill="#2e8ee6"/>
</g>
<g shape-rendering="crispEdges" fill="#c0c0c0">
<rect x="9" y="456" width="1" height="13"/>
<rect x="17" y="456" width="1" height="16"/>
<rect x="25" y="456" width="1" height="20"/>
<rect x="33" y="456" width="1" height="22"/>
<rect x="41" y="456" width="1" height="23"/>
<rect x="49" y="456" width="1" height="22"/>
<rect x="57" y="456" width="1" height="23"/>
<rect x="65" y="456" width="1" height="24"/>
<rect x="73" y="456" width="1" height="24"/>
<rect x="81" y="456" width="1" height="23"/>
<rect x="89" y="456" width="1" height="21"/>
<rect x="97" y="456" width="1" height="20"/>
<rect x="105" y="456" width="1" height="19"/>
<rect x="113" y="456" width="1" height="19"/>
<rect x="121" y="456" width="1" height="20"/>
<rect x="129" y="456" width="1" height="20"/>
<rect x="137" y="456" width="1" height="20"/>
<rect x="145" y="456" width="1" height="20"/>
<rect x="153" y="456" width="1" height="19"/>
<rect x="161" y="456" width="1" height="20"/>
<rect x="169" y="456" width="1" height="20"/>
<rect x="177" y="456" width="1" height="20"/>
<rect x="185" y="456" width="1" height="20"/>
<rect x="193" y="456" width="1" height="19"/>
<rect x="201" y="456" width="1" height="17"/>
<rect x="209" y="456" width="1" height="12"/>
<rect x="217" y="456" width="1" height="8"/>
<rect x="225" y="456" width="1" height="4"/>
<rect x="233" y="456" width="1" height="1"/>
<rect x="241" y="453" width="1" height="4"/>
<rect x="249" y="449" width="1" height="8"/>
<rect x="257" y="445" width="1" height="12"/>
<rect x="265" y="442" width="1" height="15"/>
<rect x="273" y="440" width="1" height="17"/>
<rect x="281" y="438" width="1" height="19"/>
<rect x="289" y="437" width="1" height="20"/>
<rect x="297" y="437" width="1" height="20"/>
<rect x="305" y="437" width="1" height="20"/>
<rect x="313" y="437" width="1" height="20"/>
<rect x="321" y="438" width="1" height="19"/>
<rect x="329" y="440" width="1" height="17"/>
<rect x="337" y="440" width="1" height="17"/>
<rect x="345" y="440" width="1" height="17"/>
<rect x="353" y="439" width="1" height="18"/>
<rect x="361" y="439" width="1" height="18"/>
<rect x="369" y="439" width="1" height="18"/>
<rect x="377" y="439" width="1" height="18"/>
<rect x="385" y="440" width="1" height="17"/>
<rect x="393" y="439" width="1" height="18"/>
<rect x="401" y="439" width="1" height="18"/>
<rect x="409" y="439" width="1" height="18"/>
<rect x="417" y="440" width="1" height="17"/>
<rect x="425" y="440" width="1" height="17"/>
<rect x="433" y="438" width="1" height="19"/>
<rect x="441" y="438" width="1" height="19"/>
<rect x="449" y="438" width="1" height="19"/>
<rect x="457" y="438" width="1" height="19"/>
<rect x="465" y="438" width="1" height="19"/>
<rect x="473" y="438" width="1" height="19"/>
<rect x="481" y="439" width="1" height="18"/>
<rect x="489" y="441" width="1" height="16"/>
<rect x="497" y="442" width="1" height="15"/>
<rect x="505" y="442" width="1" height="15"/>
<rect x="513" y="442" width="1" height="15"/>
<rect x="521" y="441" width="1" height="16"/>
<rect x="529" y="441" width="1" height="16"/>
<rect x="537" y="440" width="1" height="17"/>
<rect x="545" y="442" width="1" height="15"/>
<rect x="553" y="444" width="1" height="13"/>
<rect x="561" y="446" width="1" height="11"/>
<rect x="569" y="450" width="1" height="7"/>
<rect x="577" y="453" width="1" height="4"/>
<rect x="585" y="455" width="1" height="2"/>
<rect x="593" y="456" width="1" height="1"/>
<rect x="601" y="456" width="1" height="1"/>
<rect x="609" y="456" width="1" height="1"/>
<rect x="617" y="456" width="1" height="1"/>
<rect x="625" y="456" width="1" height="1"/>
<rect x="633" y="456" width="1" height="1"/>
<rect x="641" y="456" width="1" height="1"/>
<rect x="649" y="456" width="1" height="1"/>
<rect x="657" y="456" width="1" height="1"/>
<rect x="665" y="456" width="1" height="1"/>
<rect x="673" y="456" width="1" height="1"/>
<rect x="681" y="456" width="1" height="1"/>
<rect x="689" y="456" width="1" height="1"/>
<rect x="697" y="456" width="1" height="3"/>
<rect x="705" y="456" width="1" height="6"/>
<rect x="713" y="456" width="1" height="8"/>
<rect x="721" y="456" width="1" height="8"/>
<rect x="729" y="456" width="1" height="7"/>
<rect x="737" y="456" width="1" height="6"/>
<rect x="745" y="456" width="1" height="6"/>
<rect x="753" y="456" width="1" height="4"/>
<rect x="761" y="456" width="1" height="4"/>
<rect x="769" y="456" width="1" height="5"/>
<rect x="777" y="456" width="1" height="5"/>
<rect x="785" y="456" width="1" height="6"/>
<rect x="793" y="456" width="1" height="5"/>
<rect x="801" y="456" width="1" height="4"/>
<rect x="809" y="456" width="1" height="6"/>
<rect x="817" y="456" width="1" height="7"/>
<rect x="825" y="456" width="1" height="7"/>
<rect x="833" y="456" width="1" height="7"/>
<rect x="841" y="456" width="1" height="8"/>
<rect x="849" y="456" width="1" height="10"/>
<rect x="857" y="456" width="1" height="10"/>
<rect x="865" y="456" width="1" height="12"/>
<rect x="873" y="456" width="1" height="11"/>
<rect x="881" y="456" width="1" height="9"/>
<rect x="889" y="456" width="1" height="9"/>
<rect x="897" y="456" width="1" height="9"/>
<rect x="905" y="456" width="1" height="10"/>
<rect x="913" y="456" width="1" height="10"/>
<rect x="921" y="456" width="1" height="12"/>
<rect x="929" y="456" width="1" height="13"/>
<rect x="937" y="456" width="1" height="12"/>
<rect x="945" y="456" width="1" height="11"/>
<rect x="953" y="456" width="1" height="11"/>
<rect x="961" y="456" width="1" height="10"/>
<rect x="969" y="456" width="1" height="7"/>
<rect x="977" y="456" width="1" height="5"/>
</g>
<path d="M322 437.5h2M327 437.5h3M333 437.5h3M339 437.5h3M345 437.5h3M351 437.5h3M357 437.5h3M461 437.5h1M465 437.5h3M471 437.5h3M477 437.5h3M483 437.5h3M489 437.5h3M316 438.5h2M321 438.5h1M363 438.5h3M369 438.5h3M375 438.5h3M381 438.5h3M387 438.5h3M393 438.5h3M399 438.5h3M405 438.5h3M411 438.5h3M417 438.5h3M423 438.5h3M429 438.5h3M435 438.5h3M441 438.5h3M447 438.5h3M453 438.5h3M459 438.5h2M495 438.5h3M501 438.5h3M507 438.5h3M315 439.5h1M513 439.5h3M519 439.5h3M525 439.5h3M531 439.5h3M309 440.5h3M537 440.5h3M543 440.5h3M549 440.5h1M303 441.5h3M550 441.5h2M555 441.5h3M561 441.5h3M299 442.5h1M567 442.5h3M297 443.5h2M573 443.5h3M579 444.5h3M585 444.5h1M292 445.5h2M586 445.5h2M291 446.5h1M591 446.5h1M286 447.5h2M592 447.5h2M285 448.5h1M597 448.5h3M279 449.5h3M603 449.5h3M609 449.5h1M610 450.5h2M275 451.5h1M615 451.5h2M273 452.5h2M617 452.5h1M621 453.5h3M268 454.5h2M627 454.5h3M267 455.5h1M633 455.5h3M263 456.5h1M639 456.5h3M645 456.5h3M651 456.5h3M261 457.5h2M657 457.5h3M663 457.5h3M669 457.5h3M675 457.5h3M681 457.5h3M687 457.5h3M693 457.5h1M694 458.5h2M699 458.5h3M705 458.5h3M257 459.5h1M711 459.5h3M255 460.5h2M717 460.5h3M723 460.5h3M729 460.5h3M735 460.5h1M9 461.5h2M736 461.5h2M741 461.5h3M789 461.5h2M794 461.5h3M800 461.5h3M806 461.5h3M812 461.5h3M818 461.5h3M824 461.5h3M11 462.5h1M251 462.5h1M747 462.5h3M753 462.5h3M759 462.5h3M765 462.5h3M771 462.5h3M777 462.5h3M783 462.5h3M789 462.5h1M830 462.5h3M836 462.5h3M842 462.5h3M15 463.5h3M249 463.5h2M848 463.5h3M854 463.5h3M860 463.5h3M21 464.5h3M866 464.5h3M27 465.5h1M245 465.5h1M872 465.5h3M878 465.5h3M884 465.5h3M890 465.5h3M896 465.5h1M28 466.5h2M243 466.5h2M897 466.5h2M902 466.5h3M908 466.5h3M914 466.5h3M920 466.5h1M975 466.5h2M33 467.5h2M921 467.5h2M926 467.5h3M932 467.5h3M938 467.5h3M944 467.5h3M950 467.5h3M956 467.5h3M962 467.5h3M968 467.5h3M974 467.5h1M35 468.5h1M237 468.5h3M232 469.5h2M39 470.5h3M231 470.5h1M45 471.5h3M226 471.5h2M51 472.5h3M220 472.5h2M225 472.5h1M57 473.5h2M215 473.5h1M219 473.5h1M59 474.5h1M213 474.5h2M63 475.5h3M207 475.5h3M69 476.5h3M149 476.5h1M153 476.5h3M159 476.5h3M165 476.5h3M171 476.5h3M177 476.5h3M183 476.5h3M189 476.5h3M195 476.5h3M201 476.5h3M75 477.5h3M125 477.5h1M129 477.5h3M135 477.5h3M141 477.5h3M147 477.5h2M81 478.5h3M101 478.5h1M105 478.5h3M111 478.5h3M117 478.5h3M123 478.5h2M87 479.5h3M93 479.5h3M99 479.5h2" stroke="#ff0000" stroke-width="1" fill="none" shape-rendering="crispEdges"/>
<g stroke="#c0c0c0" stroke-width="1" stroke-dasharray="3,3" shape-rendering="crispEdges">
<line x1="9" y1="512.5" x2="1234" y2="512.5"/>
<line x1="9" y1="546.5" x2="1234" y2="546.5"/>
</g>
<path d="M437 511.5h5M254 512.5h14M280 512.5h6M432 512.5h5M442 512.5h2M251 513.5h3M268 513.5h4M276 513.5h4M286 513.5h5M399 513.5h3M430 513.5h2M444 513.5h1M248 514.5h3M272 514.5h4M291 514.5h2M358 514.5h15M395 514.5h4M402 514.5h2M428 514.5h2M445 514.5h2M462 514.5h13M520 514.5h7M245 515.5h3M293 515.5h3M301 515.5h12M353 515.5h5M373 515.5h5M392 515.5h3M404 515.5h2M426 515.5h2M447 515.5h2M457 515.5h5M475 515.5h3M518 515.5h2M527 515.5h6M242 516.5h3M296 516.5h5M313 516.5h7M349 516.5h4M378 516.5h3M390 516.5h2M406 516.5h2M423 516.5h3M449 516.5h9M478 516.5h3M516 516.5h2M533 516.5h4M232 517.5h10M320 517.5h2M345 517.5h4M381 517.5h2M388 517.5h2M408 517.5h2M420 517.5h3M481 517.5h1M512 517.5h4M537 517.5h2M230 518.5h2M322 518.5h2M343 518.5h3M383 518.5h2M386 518.5h2M410 518.5h6M418 518.5h2M482 518.5h1M504 518.5h8M539 518.5h3M228 519.5h2M324 519.5h1M341 519.5h2M385 519.5h1M416 519.5h2M483 519.5h1M501 519.5h3M542 519.5h2M226 520.5h2M325 520.5h1M338 520.5h3M484 520.5h1M498 520.5h3M544 520.5h2M223 521.5h3M326 521.5h1M335 521.5h3M485 521.5h1M496 521.5h2M546 521.5h1M209 522.5h3M221 522.5h2M327 522.5h2M333 522.5h2M486 522.5h1M494 522.5h2M547 522.5h2M208 523.5h1M212 523.5h3M219 523.5h2M329 523.5h4M487 523.5h1M492 523.5h2M549 523.5h1M207 524.5h1M215 524.5h4M329 524.5h1M488 524.5h1M490 524.5h2M550 524.5h1M972 524.5h5M206 525.5h1M489 525.5h1M551 525.5h2M968 525.5h4M205 526.5h1M553 526.5h1M751 526.5h3M967 526.5h1M204 527.5h1M554 527.5h2M630 527.5h4M747 527.5h4M754 527.5h1M965 527.5h2M203 528.5h1M556 528.5h1M627 528.5h3M634 528.5h1M654 528.5h6M744 528.5h3M755 528.5h2M963 528.5h2M202 529.5h1M557 529.5h2M616 529.5h11M635 529.5h1M649 529.5h5M660 529.5h6M743 529.5h1M757 529.5h1M801 529.5h1M961 529.5h2M202 530.5h1M559 530.5h2M613 530.5h3M636 530.5h1M647 530.5h2M666 530.5h3M678 530.5h4M741 530.5h2M758 530.5h2M800 530.5h1M802 530.5h1M960 530.5h1M200 531.5h2M561 531.5h1M600 531.5h6M610 531.5h3M637 531.5h1M645 531.5h2M669 531.5h9M682 531.5h1M739 531.5h2M760 531.5h1M799 531.5h1M803 531.5h1M876 531.5h6M958 531.5h2M197 532.5h3M562 532.5h1M598 532.5h2M606 532.5h4M638 532.5h2M644 532.5h1M673 532.5h1M683 532.5h1M738 532.5h1M761 532.5h3M798 532.5h1M804 532.5h1M872 532.5h4M882 532.5h2M941 532.5h6M957 532.5h1M195 533.5h2M563 533.5h1M597 533.5h1M640 533.5h1M642 533.5h2M684 533.5h1M735 533.5h3M764 533.5h4M779 533.5h8M797 533.5h1M805 533.5h1M871 533.5h1M884 533.5h2M938 533.5h3M947 533.5h2M955 533.5h2M193 534.5h2M564 534.5h2M595 534.5h2M641 534.5h1M685 534.5h1M733 534.5h2M768 534.5h11M787 534.5h2M795 534.5h2M806 534.5h1M830 534.5h4M871 534.5h1M886 534.5h2M891 534.5h7M936 534.5h2M949 534.5h2M954 534.5h1M89 535.5h11M191 535.5h2M566 535.5h1M583 535.5h7M594 535.5h1M685 535.5h1M730 535.5h3M789 535.5h2M794 535.5h1M807 535.5h1M825 535.5h5M834 535.5h1M870 535.5h1M888 535.5h3M898 535.5h1M934 535.5h2M951 535.5h3M88 536.5h1M100 536.5h2M189 536.5h2M567 536.5h1M581 536.5h2M590 536.5h4M686 536.5h1M721 536.5h9M791 536.5h1M793 536.5h1M808 536.5h1M823 536.5h3M835 536.5h1M869 536.5h1M899 536.5h2M932 536.5h2M952 536.5h1M86 537.5h2M102 537.5h3M152 537.5h3M187 537.5h2M568 537.5h1M578 537.5h3M687 537.5h1M719 537.5h2M792 537.5h2M809 537.5h2M821 537.5h2M836 537.5h2M868 537.5h1M901 537.5h2M930 537.5h2M85 538.5h1M105 538.5h4M151 538.5h1M155 538.5h2M186 538.5h1M569 538.5h9M688 538.5h1M718 538.5h1M811 538.5h2M820 538.5h1M838 538.5h1M847 538.5h11M867 538.5h1M903 538.5h1M928 538.5h2M84 539.5h1M109 539.5h5M150 539.5h1M157 539.5h2M184 539.5h2M689 539.5h10M716 539.5h2M813 539.5h3M818 539.5h2M839 539.5h1M845 539.5h2M858 539.5h2M867 539.5h1M904 539.5h11M926 539.5h2M83 540.5h1M113 540.5h4M149 540.5h1M159 540.5h2M183 540.5h1M699 540.5h3M715 540.5h1M816 540.5h2M840 540.5h1M842 540.5h3M860 540.5h2M866 540.5h1M915 540.5h2M924 540.5h2M49 541.5h4M82 541.5h1M117 541.5h3M124 541.5h7M148 541.5h1M161 541.5h3M181 541.5h2M702 541.5h2M714 541.5h1M841 541.5h1M862 541.5h2M865 541.5h1M917 541.5h3M922 541.5h2M48 542.5h1M53 542.5h4M77 542.5h5M120 542.5h4M131 542.5h2M147 542.5h1M164 542.5h2M180 542.5h1M704 542.5h10M864 542.5h1M920 542.5h2M47 543.5h1M57 543.5h2M73 543.5h4M133 543.5h2M146 543.5h1M166 543.5h2M178 543.5h2M46 544.5h1M59 544.5h1M71 544.5h2M135 544.5h2M145 544.5h1M168 544.5h10M9 545.5h2M45 545.5h1M60 545.5h2M69 545.5h2M137 545.5h9M11 546.5h2M44 546.5h1M62 546.5h2M67 546.5h2M13 547.5h2M43 547.5h1M64 547.5h3M15 548.5h2M42 548.5h1M65 548.5h1M17 549.5h6M42 549.5h1M23 550.5h19" stroke="#1e90ff" stroke-width="1" fill="none" shape-rendering="crispEdges"/>
<polygon points="11.8,42 19.2,42 15.5,37.8" fill="#000"/>
</svg>
<div class="frame" style="left:8px;top:31px;width:1227px;height:400px"></div>
<div class="frame" style="left:8px;top:432px;width:1227px;height:52px"></div>
<div class="frame" style="left:8px;top:485px;width:1227px;height:88px"></div>
<div class="tick" style="top:64px"></div><div class="t" style="left:1240.40px;top:60px;font-size:9.8px;line-height:9.8px;color:#000;transform-origin:0 8px;transform:scale(0.9202,1);-webkit-text-stroke:0.2px #000;">1.01065</div>
<div class="tick" style="top:97px"></div><div class="t" style="left:1240.40px;top:93px;font-size:9.8px;line-height:9.8px;color:#000;transform-origin:0 8px;transform:scale(0.9202,1);-webkit-text-stroke:0.2px #000;">1.00540</div>
<div class="tick" style="top:130px"></div><div class="t" style="left:1240.40px;top:126px;font-size:9.8px;line-height:9.8px;color:#000;transform-origin:0 8px;transform:scale(0.9202,1);-webkit-text-stroke:0.2px #000;">1.00015</div>
<div class="tick" style="top:163px"></div><div class="t" style="left:1240.40px;top:159px;font-size:9.8px;line-height:9.8px;color:#000;transform-origin:0 8px;transform:scale(0.9202,1);-webkit-text-stroke:0.2px #000;">0.99490</div>
<div class="tick" style="top:196px"></div><div class="t" style="left:1240.40px;top:192px;font-size:9.8px;line-height:9.8px;color:#000;transform-origin:0 8px;transform:scale(0.9202,1);-webkit-text-stroke:0.2px #000;">0.98965</div>
<div class="tick" style="top:229px"></div><div class="t" style="left:1240.40px;top:225px;font-size:9.8px;line-height:9.8px;color:#000;transform-origin:0 8px;transform:scale(0.9202,1);-webkit-text-stroke:0.2px #000;">0.98440</div>
<div class="tick" style="top:262px"></div><div class="t" style="left:1240.40px;top:258px;font-size:9.8px;line-height:9.8px;color:#000;transform-origin:0 8px;transform:scale(0.9202,1);-webkit-text-stroke:0.2px #000;">0.97915</div>
<div class="tick" style="top:295px"></div><div class="t" style="left:1240.40px;top:291px;font-size:9.8px;line-height:9.8px;color:#000;transform-origin:0 8px;transform:scale(0.9202,1);-webkit-text-stroke:0.2px #000;">0.97390</div>
<div class="tick" style="top:328px"></div><div class="t" style="left:1240.40px;top:324px;font-size:9.8px;line-height:9.8px;color:#000;transform-origin:0 8px;transform:scale(0.9202,1);-webkit-text-stroke:0.2px #000;">0.96880</div>
<div class="tick" style="top:361px"></div><div class="t" style="left:1240.40px;top:357px;font-size:9.8px;line-height:9.8px;color:#000;transform-origin:0 8px;transform:scale(0.9202,1);-webkit-text-stroke:0.2px #000;">0.96355</div>
<div class="tick" style="top:394px"></div><div class="t" style="left:1240.40px;top:390px;font-size:9.8px;line-height:9.8px;color:#000;transform-origin:0 8px;transform:scale(0.9202,1);-webkit-text-stroke:0.2px #000;">0.95830</div>
<div class="tick" style="top:427px"></div><div class="t" style="left:1240.40px;top:423px;font-size:9.8px;line-height:9.8px;color:#000;transform-origin:0 8px;transform:scale(0.9202,1);-webkit-text-stroke:0.2px #000;">0.95305</div>

<div class="abs" style="left:1236px;top:183px;width:41px;height:10.7px;background:#000"></div>
<div class="t" style="left:1240.40px;top:184px;font-size:9.8px;line-height:9.8px;color:#fff;transform-origin:0 8px;transform:scale(0.9202,1);-webkit-text-stroke:0.2px #fff;">0.99097</div>

<div class="tick" style="top:456px"></div><div class="tick" style="top:434px;width:1px"></div><div class="tick" style="top:482px;width:1px"></div><div class="tick" style="top:486px;width:1px"></div><div class="tick" style="top:571px;width:1px"></div>
<div class="t" style="left:1238.30px;top:435px;font-size:9.8px;line-height:9.8px;color:#000;transform-origin:0 8px;transform:scale(0.9101,1);-webkit-text-stroke:0.2px #000;">0.006137</div>
<div class="t" style="left:1238.30px;top:452px;font-size:9.8px;line-height:9.8px;color:#000;transform-origin:0 8px;transform:scale(0.9122,1);-webkit-text-stroke:0.2px #000;">0.00</div>
<div class="t" style="left:1238.30px;top:472px;font-size:9.8px;line-height:9.8px;color:#000;transform-origin:0 8px;transform:scale(0.9402,1);-webkit-text-stroke:0.2px #000;">-0.007142</div>
<div class="t" style="left:1238.30px;top:488px;font-size:9.8px;line-height:9.8px;color:#000;transform-origin:0 8px;transform:scale(0.8868,1);-webkit-text-stroke:0.2px #000;">100</div>
<div class="t" style="left:1236.70px;top:508px;font-size:9.8px;line-height:9.8px;color:#000;transform-origin:0 8px;transform:scale(0.9357,1);-webkit-text-stroke:0.2px #000;">70</div>
<div class="t" style="left:1236.70px;top:542px;font-size:9.8px;line-height:9.8px;color:#000;transform-origin:0 8px;transform:scale(0.9357,1);-webkit-text-stroke:0.2px #000;">30</div>
<div class="t" style="left:1238.30px;top:561px;font-size:9.8px;line-height:9.8px;color:#000;transform-origin:0 8px;transform:scale(0.8623,1);-webkit-text-stroke:0.2px #000;">0</div>


<div class="t" style="left:23.70px;top:35px;font-size:9.8px;line-height:9.8px;color:#000;transform-origin:0 8px;transform:scale(1.0179,1);-webkit-text-stroke:0.2px #000;">USDCHF,Daily</div>
<div class="t" style="left:95.30px;top:35px;font-size:9.8px;line-height:9.8px;color:#000;transform-origin:0 8px;transform:scale(0.9118,1);-webkit-text-stroke:0.2px #000;">0.99031</div>
<div class="t" style="left:131.30px;top:35px;font-size:9.8px;line-height:9.8px;color:#000;transform-origin:0 8px;transform:scale(0.9118,1);-webkit-text-stroke:0.2px #000;">0.99103</div>
<div class="t" style="left:167.30px;top:35px;font-size:9.8px;line-height:9.8px;color:#000;transform-origin:0 8px;transform:scale(0.9118,1);-webkit-text-stroke:0.2px #000;">0.98888</div>
<div class="t" style="left:203.30px;top:35px;font-size:9.8px;line-height:9.8px;color:#000;transform-origin:0 8px;transform:scale(0.9118,1);-webkit-text-stroke:0.2px #000;">0.99097</div>
<div class="t" style="left:13.30px;top:437px;font-size:9.8px;line-height:9.8px;color:#000;transform-origin:0 8px;transform:scale(0.9573,1);-webkit-text-stroke:0.2px #000;">MACD(12,26,9)&nbsp;-0.001198&nbsp;-0.002754</div>
<div class="t" style="left:13.30px;top:490px;font-size:9.8px;line-height:9.8px;color:#000;transform-origin:0 8px;transform:scale(0.9345,1);-webkit-text-stroke:0.2px #000;">RSI(14)&nbsp;55.5361</div>

<!-- one click trading -->
<div class="abs" style="left:12px;top:51px;width:52px;height:25px;background:linear-gradient(#5252f4,#2c2ce0)"></div>
<div class="abs" style="left:179px;top:51px;width:52px;height:25px;background:linear-gradient(#5252f4,#2c2ce0)"></div>
<div class="abs" style="left:12px;top:76px;width:109px;height:39px;background:linear-gradient(#2424dc,#0000a4)"></div>
<div class="abs" style="left:123px;top:76px;width:108px;height:39px;background:linear-gradient(#2424dc,#0000a4)"></div>
<div class="abs" style="left:16px;top:74px;width:44px;height:1px;background:#8a8af2"></div>
<div class="abs" style="left:183px;top:74px;width:44px;height:1px;background:#8a8af2"></div>
<div class="abs" style="left:64px;top:51px;width:115px;height:24px;background:#fff"></div>
<div class="abs" style="left:66px;top:51px;width:111px;height:22px;background:#fff;border:1px solid #b2b2b2;box-sizing:border-box"></div>
<div class="abs" style="left:67px;top:52px;width:20px;height:20px;background:linear-gradient(#f0f0f0,#e4e4e4 45%,#d2d2d2 55%,#dadada)"></div>
<div class="abs" style="left:87px;top:52px;width:1px;height:20px;background:#b2b2b2"></div>
<div class="abs" style="left:156px;top:52px;width:20px;height:20px;background:linear-gradient(#f0f0f0,#e4e4e4 45%,#d2d2d2 55%,#dadada)"></div>
<div class="abs" style="left:155px;top:52px;width:1px;height:20px;background:#b2b2b2"></div>
<div class="abs" style="left:73.5px;top:60px;width:0;height:0;border-left:3px solid transparent;border-right:3px solid transparent;border-top:3px solid #5868b0"></div>
<div class="abs" style="left:162.5px;top:60px;width:0;height:0;border-left:3px solid transparent;border-right:3px solid transparent;border-bottom:3px solid #5868b0"></div>
<div class="t" style="left:24.60px;top:57px;font-size:12px;line-height:12px;color:#fff;transform-origin:0 10px;transform:scale(0.8550,1);-webkit-text-stroke:0.1px #fff;">SELL</div>
<div class="t" style="left:192.40px;top:57px;font-size:12px;line-height:12px;color:#fff;transform-origin:0 10px;transform:scale(0.9483,1);-webkit-text-stroke:0.1px #fff;">BUY</div>
<div class="t" style="left:128.20px;top:57px;font-size:11.1px;line-height:11.1px;color:#000;transform-origin:0 9px;transform:scale(1.0831,1);-webkit-text-stroke:0.1px #000;">0.01</div>
<div class="t" style="left:32.30px;top:96px;font-size:10.7px;line-height:10.7px;color:#fff;font-weight:bold;transform-origin:0 9px;transform:scale(1.1236,1);-webkit-text-stroke:0.1px #fff;">0.99</div>
<div class="t" style="left:142.10px;top:96px;font-size:10.7px;line-height:10.7px;color:#fff;font-weight:bold;transform-origin:0 9px;transform:scale(1.1476,1);-webkit-text-stroke:0.1px #fff;">0.99</div>
<div class="t" style="left:59.30px;top:77px;font-size:33px;line-height:33px;color:#fff;transform-origin:0 28px;transform:scale(0.9671,1);-webkit-text-stroke:0.1px #fff;">09</div>
<div class="t" style="left:170.80px;top:77px;font-size:33px;line-height:33px;color:#fff;transform-origin:0 28px;transform:scale(0.9153,1);-webkit-text-stroke:0.1px #fff;">12</div>
<div class="t" style="left:99.80px;top:81px;font-size:10.6px;line-height:10.6px;color:#fff;font-weight:bold;transform-origin:0 9px;transform:scale(1.0008,1);-webkit-text-stroke:0.1px #fff;">7</div>
<div class="t" style="left:209.90px;top:81px;font-size:10.6px;line-height:10.6px;color:#fff;font-weight:bold;transform-origin:0 9px;transform:scale(1.2213,1);-webkit-text-stroke:0.1px #fff;">0</div>

<div class="dt" style="left:9px"></div><div class="t" style="left:7.50px;top:577px;font-size:9.8px;line-height:9.8px;color:#000;transform-origin:0 8px;transform:scale(0.9628,1);-webkit-text-stroke:0.2px #000;">28&nbsp;Aug&nbsp;2018</div>
<div class="dt" style="left:73px"></div><div class="t" style="left:71.50px;top:577px;font-size:9.8px;line-height:9.8px;color:#000;transform-origin:0 8px;transform:scale(0.9325,1);-webkit-text-stroke:0.2px #000;">7&nbsp;Sep&nbsp;2018</div>
<div class="dt" style="left:137px"></div><div class="t" style="left:135.50px;top:577px;font-size:9.8px;line-height:9.8px;color:#000;transform-origin:0 8px;transform:scale(0.9310,1);-webkit-text-stroke:0.2px #000;">17&nbsp;Sep&nbsp;2018</div>
<div class="dt" style="left:201px"></div><div class="t" style="left:199.50px;top:577px;font-size:9.8px;line-height:9.8px;color:#000;transform-origin:0 8px;transform:scale(0.9310,1);-webkit-text-stroke:0.2px #000;">26&nbsp;Sep&nbsp;2018</div>
<div class="dt" style="left:265px"></div><div class="t" style="left:263.50px;top:577px;font-size:9.8px;line-height:9.8px;color:#000;transform-origin:0 8px;transform:scale(0.9647,1);-webkit-text-stroke:0.2px #000;">5&nbsp;Oct&nbsp;2018</div>
<div class="dt" style="left:329px"></div><div class="t" style="left:327.50px;top:577px;font-size:9.8px;line-height:9.8px;color:#000;transform-origin:0 8px;transform:scale(0.9589,1);-webkit-text-stroke:0.2px #000;">15&nbsp;Oct&nbsp;2018</div>
<div class="dt" style="left:393px"></div><div class="t" style="left:391.50px;top:577px;font-size:9.8px;line-height:9.8px;color:#000;transform-origin:0 8px;transform:scale(0.9702,1);-webkit-text-stroke:0.2px #000;">24&nbsp;Oct&nbsp;2018</div>
<div class="dt" style="left:457px"></div><div class="t" style="left:455.50px;top:577px;font-size:9.8px;line-height:9.8px;color:#000;transform-origin:0 8px;transform:scale(0.9875,1);-webkit-text-stroke:0.2px #000;">2&nbsp;Nov&nbsp;2018</div>
<div class="dt" style="left:521px"></div><div class="t" style="left:519.50px;top:577px;font-size:9.8px;line-height:9.8px;color:#000;transform-origin:0 8px;transform:scale(0.9716,1);-webkit-text-stroke:0.2px #000;">12&nbsp;Nov&nbsp;2018</div>
<div class="dt" style="left:585px"></div><div class="t" style="left:583.50px;top:577px;font-size:9.8px;line-height:9.8px;color:#000;transform-origin:0 8px;transform:scale(0.9716,1);-webkit-text-stroke:0.2px #000;">21&nbsp;Nov&nbsp;2018</div>
<div class="dt" style="left:649px"></div><div class="t" style="left:647.50px;top:577px;font-size:9.8px;line-height:9.8px;color:#000;transform-origin:0 8px;transform:scale(0.9716,1);-webkit-text-stroke:0.2px #000;">30&nbsp;Nov&nbsp;2018</div>
<div class="dt" style="left:713px"></div><div class="t" style="left:711.50px;top:577px;font-size:9.8px;line-height:9.8px;color:#000;transform-origin:0 8px;transform:scale(0.9375,1);-webkit-text-stroke:0.2px #000;">10&nbsp;Dec&nbsp;2018</div>
<div class="dt" style="left:777px"></div><div class="t" style="left:775.50px;top:577px;font-size:9.8px;line-height:9.8px;color:#000;transform-origin:0 8px;transform:scale(0.9375,1);-webkit-text-stroke:0.2px #000;">19&nbsp;Dec&nbsp;2018</div>
<div class="dt" style="left:841px"></div><div class="t" style="left:839.50px;top:577px;font-size:9.8px;line-height:9.8px;color:#000;transform-origin:0 8px;transform:scale(0.9411,1);-webkit-text-stroke:0.2px #000;">28&nbsp;Dec&nbsp;2018</div>
<div class="dt" style="left:905px"></div><div class="t" style="left:903.50px;top:577px;font-size:9.8px;line-height:9.8px;color:#000;transform-origin:0 8px;transform:scale(0.9279,1);-webkit-text-stroke:0.2px #000;">7&nbsp;Jan&nbsp;2019</div>
<div class="dt" style="left:969px"></div><div class="t" style="left:967.50px;top:577px;font-size:9.8px;line-height:9.8px;color:#000;transform-origin:0 8px;transform:scale(0.9379,1);-webkit-text-stroke:0.2px #000;">16&nbsp;Jan&nbsp;2019</div>

<!-- tab bar -->
<div class="abs" style="left:6px;top:594px;width:1272px;height:27px;background:#f0f0f0"></div>
<div class="abs" style="left:0;top:593px;width:1278px;height:1px;background:#e4e4e4"></div>
<div class="abs" style="left:4px;top:595px;width:1274px;height:1px;background:#000"></div>
<div class="abs" style="left:206px;top:595px;width:100px;height:19px;background:#fff;border:1px solid #000;border-top:1px solid #fff;box-sizing:border-box"></div>
<div class="t" style="left:21.90px;top:600px;font-size:12.2px;line-height:12.2px;color:#6e6e6e;transform-origin:0 10px;transform:scale(0.9687,1);-webkit-text-stroke:0.1px #6e6e6e;">EURUSD,H4</div>
<div class="t" style="left:112.90px;top:600px;font-size:12.2px;line-height:12.2px;color:#6e6e6e;transform-origin:0 10px;transform:scale(1.0058,1);-webkit-text-stroke:0.1px #6e6e6e;">AUDUSD,Daily</div>
<div class="t" style="left:215.50px;top:600px;font-size:12.2px;line-height:12.2px;color:#000;transform-origin:0 10px;transform:scale(0.9902,1);-webkit-text-stroke:0.1px #000;">USDCHF,Daily</div>
<div class="t" style="left:316.70px;top:600px;font-size:12.2px;line-height:12.2px;color:#6e6e6e;transform-origin:0 10px;transform:scale(0.9843,1);-webkit-text-stroke:0.1px #6e6e6e;">USDCAD,H4</div>
<div class="t" style="left:408.90px;top:600px;font-size:12.2px;line-height:12.2px;color:#6e6e6e;transform-origin:0 10px;transform:scale(1.0183,1);-webkit-text-stroke:0.1px #6e6e6e;">USDCNH,Weekly</div>
<div class="t" style="left:527.80px;top:600px;font-size:12.2px;line-height:12.2px;color:#6e6e6e;transform-origin:0 10px;transform:scale(0.9783,1);-webkit-text-stroke:0.1px #6e6e6e;">USDJPY,Daily</div>
<div class="t" style="left:624.90px;top:600px;font-size:12.2px;line-height:12.2px;color:#6e6e6e;transform-origin:0 10px;transform:scale(0.9910,1);-webkit-text-stroke:0.1px #6e6e6e;">XAUUSD,H4</div>
<div class="t" style="left:717.40px;top:600px;font-size:12.2px;line-height:12.2px;color:#6e6e6e;transform-origin:0 10px;transform:scale(0.9729,1);-webkit-text-stroke:0.1px #6e6e6e;">GBPUSD,H1</div>
<div class="t" style="left:809.50px;top:600px;font-size:12.2px;line-height:12.2px;color:#6e6e6e;transform-origin:0 10px;transform:scale(1.0054,1);-webkit-text-stroke:0.1px #6e6e6e;">SP500,M15</div>
<div class="t" style="left:897.70px;top:600px;font-size:12.2px;line-height:12.2px;color:#6e6e6e;transform-origin:0 10px;transform:scale(0.9813,1);-webkit-text-stroke:0.1px #6e6e6e;">GBPUSD,Daily</div>
<div class="t" style="left:999.90px;top:600px;font-size:12.2px;line-height:12.2px;color:#6e6e6e;transform-origin:0 10px;transform:scale(0.9860,1);-webkit-text-stroke:0.1px #6e6e6e;">DJ30,H4</div>
<div class="t" style="left:1067.90px;top:600px;font-size:12.2px;line-height:12.2px;color:#6e6e6e;transform-origin:0 10px;transform:scale(0.9786,1);-webkit-text-stroke:0.1px #6e6e6e;">TECH100,H1</div>
<div class="t" style="left:1161.80px;top:600px;font-size:12.2px;line-height:12.2px;color:#6e6e6e;transform-origin:0 10px;transform:scale(1.0168,1);-webkit-text-stroke:0.1px #6e6e6e;">UKOil,H1</div>
<div class="sep" style="left:102px"></div><div class="sep" style="left:398px"></div><div class="sep" style="left:518px"></div><div class="sep" style="left:614px"></div><div class="sep" style="left:706px"></div><div class="sep" style="left:798px"></div><div class="sep" style="left:886px"></div><div class="sep" style="left:990px"></div><div class="sep" style="left:1058px"></div><div class="sep" style="left:1150px"></div><div class="sep" style="left:1226px"></div>
<div class="abs" style="left:0;top:615px;width:1278px;height:6px;background:#f8f8f8"></div>
<div class="abs" style="left:0;top:619px;width:1278px;height:1px;background:#c4c4c4"></div>
<div class="abs" style="left:1237.8px;top:597px;width:5.4px;height:16px;overflow:hidden"><div class="t" style="left:0.00px;top:3px;font-size:12.2px;line-height:12.2px;color:#6e6e6e;transform-origin:0 10px;transform:scale(0.8849,1);-webkit-text-stroke:0.1px #6e6e6e;">USDJPY,H4</div>
</div>
<div class="abs" style="left:1249.5px;top:601.3px;width:0;height:0;border-top:3px solid transparent;border-bottom:3px solid transparent;border-right:3.6px solid #8c8c8c"></div>
<div class="abs" style="left:1268.3px;top:600.8px;width:0;height:0;border-top:3.5px solid transparent;border-bottom:3.5px solid transparent;border-left:4.4px solid #000"></div>
</body></html>
